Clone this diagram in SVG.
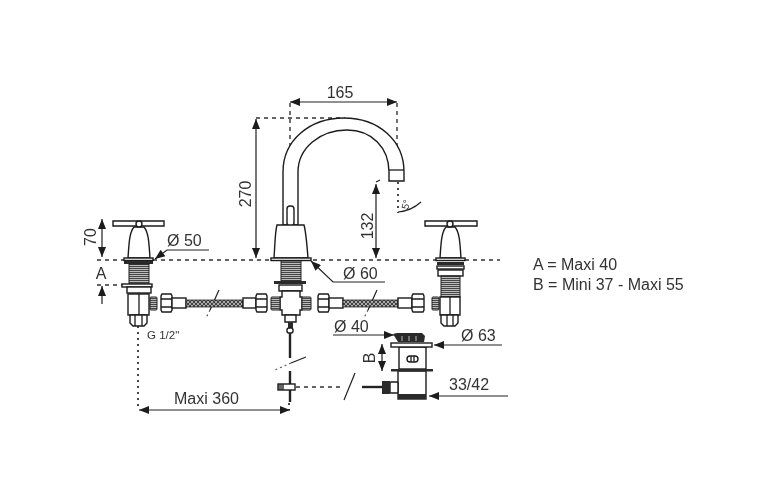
<svg xmlns="http://www.w3.org/2000/svg" width="762" height="487" viewBox="0 0 762 487">
<defs>
<style>
.o{fill:#fff;stroke:#1c1c1c;stroke-width:1.4}
.n{fill:none;stroke:#1c1c1c;stroke-width:1.3}
.k{fill:#2a2a2a;stroke:none}
.d{fill:none;stroke:#222;stroke-width:1.2}
.h{fill:none;stroke:#222;stroke-width:2.4}
.dd{fill:none;stroke:#333;stroke-width:1.4;stroke-dasharray:4 4}
.dt{fill:none;stroke:#333;stroke-width:1.8;stroke-dasharray:2 4}
.dt2{fill:none;stroke:#555;stroke-width:1.2;stroke-dasharray:2 3}
.t{font-family:"Liberation Sans",Arial,sans-serif;font-size:16px;fill:#333}
.s{font-size:11.5px}
.x{font-size:10px}
</style>
<filter id="soft" filterUnits="userSpaceOnUse" x="0" y="0" width="762" height="487"><feGaussianBlur stdDeviation="0.35"/></filter>
<marker id="a" viewBox="0 0 10 8" refX="10" refY="4" markerWidth="11" markerHeight="8" markerUnits="userSpaceOnUse" orient="auto-start-reverse"><path d="M0 0L10 4L0 8Z" fill="#1c1c1c"/></marker>
<pattern id="thr" width="4" height="2" patternUnits="userSpaceOnUse"><rect width="4" height="2" fill="#bbb"/><rect width="4" height="1" fill="#444"/></pattern>
<pattern id="br" width="4" height="4" patternUnits="userSpaceOnUse"><rect width="4" height="4" fill="#aaa"/><path d="M0 4L4 0M0 0L4 4" stroke="#333" stroke-width="0.9"/></pattern>
</defs>
<g filter="url(#soft)">
<g id="connectors">
<path class="dd" d="M97 260H500M97 285H124M256 118H345M290 103V160M397 103V155M296 387H340"/>
<path class="dt" d="M398 182V213M138 326V410M289 403V410"/>
<path class="d" marker-start="url(#a)" marker-end="url(#a)" d="M290 102H397"/>
<path class="d" marker-start="url(#a)" marker-end="url(#a)" d="M256 119V258"/>
<path class="d" marker-start="url(#a)" marker-end="url(#a)" d="M376 184V258"/>
<path class="d" marker-start="url(#a)" marker-end="url(#a)" d="M102 219V257"/>
<path class="d" marker-end="url(#a)" d="M102 304V286"/>
<path class="d" marker-start="url(#a)" marker-end="url(#a)" d="M139 410H290"/>
<path class="d" marker-start="url(#a)" marker-end="url(#a)" d="M382 344V371"/>
<path class="d" marker-end="url(#a)" d="M209 250H167L155 259"/>
<path class="d" marker-end="url(#a)" d="M385 282H333L311 261"/>
<path class="d" marker-end="url(#a)" d="M333 335H394"/>
<path class="d" marker-end="url(#a)" d="M502 345H434"/>
<path class="d" marker-end="url(#a)" d="M508 396H429"/>
<path class="d" d="M376 182L380 180M398 212Q411 211 421 202"/>
<path class="d" d="M219 290L210 310M377 290L368 310M306 357L291 363M355 373L344 400"/>
<path class="dt2" d="M210 310L206 318M368 310L364 318M291 363L275 370"/>
</g>
<g id="tap-left">
<path class="o" d="M128 258C129 245 129 233 134 227H144C149 233 149 245 150 258Z"/>
<path class="o" d="M113 221H164V226H113Z"/>
<circle class="o" cx="139" cy="224" r="3"/>
<rect class="o" x="124" y="258" width="29" height="2.5"/>
<rect class="k" x="124" y="261" width="29" height="3"/>
<rect x="129" y="264" width="20" height="20" fill="url(#thr)" stroke="#222"/>
<rect class="o" x="122" y="284" width="30" height="3"/>
<rect class="o" x="127" y="287" width="24" height="6"/>
<rect class="o" x="128" y="294" width="21" height="21"/>
<path class="n" d="M139 294V315"/>
<path class="o" d="M130 315H147V323L144 326H133L130 323Z"/>
<path class="n" d="M135 315V326M142 315V326"/>
<rect x="150" y="297" width="7" height="13" rx="1" fill="url(#thr)" stroke="#222"/>
</g>
<g id="hose-left">
<path class="o" d="M162 294H171L172 296V310L171 312H162L161 310V296Z"/>
<path class="n" d="M161 299H172M161 307H172"/>
<rect class="o" x="172" y="298" width="14" height="10"/>
<rect x="186" y="300" width="57" height="7" fill="url(#br)" stroke="#222" stroke-width="0.8"/>
<rect class="o" x="243" y="298" width="13" height="10"/>
<path class="o" d="M257 294H266L267 296V310L266 312H257L256 310V296Z"/>
<path class="n" d="M256 299H267M256 307H267"/>
</g>
<g id="spout">
<path class="o" d="M283 225V172C283 140 310 118 344 118C378 118 404 140 404 172V181H389V172C389 148 372 130 347 130C320 130 298 148 298 172V225Z"/>
<path class="n" d="M389 170H404"/>
<rect class="o" x="287" y="206" width="7" height="20" rx="3"/>
</g>
<g id="mixer-body">
<path class="o" d="M274 258C275 245 275 232 277 225H304C306 232 307 245 308 258Z"/>
<rect class="o" x="271" y="258" width="40" height="2.5"/>
<rect x="281" y="261" width="20" height="20" fill="url(#thr)" stroke="#222"/>
<rect class="k" x="274" y="281" width="32" height="3"/>
<rect class="o" x="279" y="285" width="23" height="6"/>
<path class="o" d="M282 291H300V297H302V310H300V315H282V310H280V297H282Z"/>
<rect x="271" y="297" width="9" height="13" rx="1" fill="url(#thr)" stroke="#222"/>
<rect x="302" y="297" width="9" height="13" rx="1" fill="url(#thr)" stroke="#222"/>
<path class="o" d="M285 315H296V322H285Z"/>
<rect x="288" y="322" width="5" height="6" class="k"/>
<rect class="o" x="287" y="328" width="6" height="5" rx="2"/>
<path class="h" d="M290 333V358M290 371V402"/>
<rect class="o" x="278" y="384" width="17" height="6"/>
<rect class="k" x="278" y="384" width="6" height="6" opacity=".7"/>
</g>
<g id="hose-right">
<path class="o" d="M319 294H328L329 296V310L328 312H319L318 310V296Z"/>
<path class="n" d="M318 299H329M318 307H329"/>
<rect class="o" x="329" y="298" width="14" height="10"/>
<rect x="343" y="300" width="55" height="7" fill="url(#br)" stroke="#222" stroke-width="0.8"/>
<rect class="o" x="398" y="298" width="14" height="10"/>
<path class="o" d="M413 294H423L424 296V310L423 312H413L412 310V296Z"/>
<path class="n" d="M412 299H424M412 307H424"/>
</g>
<g id="tap-right">
<path class="o" d="M440 258C441 245 441 233 446 227H455C460 233 460 245 461 258Z"/>
<path class="o" d="M425 221H477V226H425Z"/>
<circle class="o" cx="450" cy="224" r="3"/>
<rect class="o" x="436" y="258" width="29" height="2.5"/>
<rect class="k" x="437" y="262" width="27" height="3"/>
<rect class="o" x="437" y="266" width="27" height="3"/>
<rect class="o" x="438" y="270" width="25" height="6"/>
<rect x="441" y="276" width="19" height="21" fill="url(#thr)" stroke="#222"/>
<rect class="o" x="440" y="297" width="20" height="18"/>
<path class="n" d="M450 297V315"/>
<path class="o" d="M441 315H458V323L455 326H444L441 323Z"/>
<path class="n" d="M447 315V326M453 315V326"/>
<rect x="432" y="297" width="7" height="13" rx="1" fill="url(#thr)" stroke="#222"/>
</g>
<g id="waste">
<rect class="o" x="399" y="347" width="27" height="22"/>
<rect class="o" x="391" y="343" width="41" height="4"/>
<path class="k" d="M393 334L397 333H422L425 336L424 342H398Z"/>
<path d="M402 336V341M409 336V341M416 336V341" stroke="#bbb" fill="none"/>
<rect class="o" x="407" y="356" width="11" height="6" rx="3"/>
<path class="n" d="M411 356V362M414 356V362"/>
<rect class="o" x="398" y="371" width="28" height="28"/>
<rect class="k" x="398" y="394" width="28" height="5"/>
<rect class="k" x="391" y="369" width="42" height="2.5"/>
<rect class="o" x="390" y="382" width="8" height="11" rx="1"/>
<rect class="k" x="382" y="381" width="8" height="13"/>
<path class="h" d="M362 387H382"/>
</g>
<g id="labels">
<text class="t" x="340" y="98" text-anchor="middle">165</text>
<text class="t" transform="translate(251 194) rotate(-90)" text-anchor="middle">270</text>
<text class="t" transform="translate(373 226) rotate(-90)" text-anchor="middle">132</text>
<text class="t" transform="translate(96 237) rotate(-90)" text-anchor="middle">70</text>
<text class="t" x="101" y="279" text-anchor="middle">A</text>
<text class="t" x="167" y="246">Ø 50</text>
<text class="t" x="343" y="279">Ø 60</text>
<text class="t" x="334" y="332">Ø 40</text>
<text class="t" x="461" y="341">Ø 63</text>
<text class="t" x="449" y="390">33/42</text>
<text class="t" x="174" y="404">Maxi 360</text>
<text class="t" transform="translate(375 358) rotate(-90)" text-anchor="middle">B</text>
<text class="t s" x="147" y="339">G 1/2"</text>
<text class="t x" transform="translate(408 210) rotate(-75)">5°</text>
<text class="t" x="533" y="270">A = Maxi 40</text>
<text class="t" x="533" y="290">B = Mini 37 - Maxi 55</text>
</g>
</g>
</svg>
